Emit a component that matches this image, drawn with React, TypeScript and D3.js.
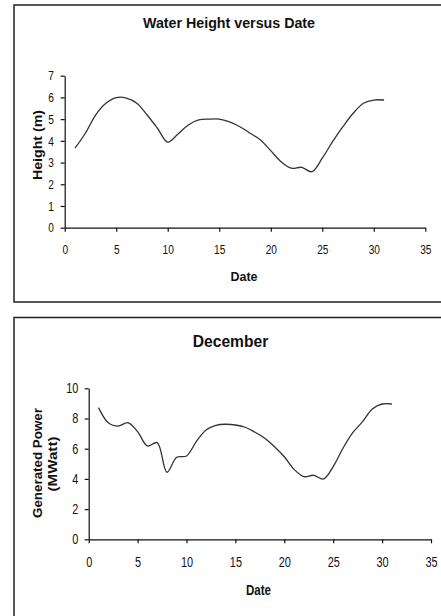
import { useEffect, useRef } from "react";
import * as d3 from "d3";

const days = [1, 2, 3, 4, 5, 6, 7, 8, 9, 10, 11, 12, 13, 14, 15, 16, 17, 18, 19, 20, 21, 22, 23, 24, 25, 26, 27, 28, 29, 30, 31];

const waterHeight = [3.66, 4.35, 5.19, 5.73, 5.99, 5.97, 5.73, 5.19, 4.58, 3.94, 4.32, 4.73, 4.96, 5.0, 5.0, 4.87, 4.65, 4.35, 4.04, 3.55, 3.04, 2.74, 2.78, 2.58, 3.2, 3.96, 4.65, 5.27, 5.73, 5.88, 5.88];

const power = [8.72, 7.72, 7.5, 7.72, 7.13, 6.18, 6.4, 4.44, 5.43, 5.52, 6.47, 7.24, 7.55, 7.62, 7.57, 7.42, 7.09, 6.69, 6.13, 5.47, 4.63, 4.15, 4.24, 3.99, 4.81, 6.03, 7.06, 7.79, 8.63, 8.96, 8.96];

const dateTicks = [0, 5, 10, 15, 20, 25, 30, 35];
const heightTicks = [0, 1, 2, 3, 4, 5, 6, 7];
const powerTicks = [0, 2, 4, 6, 8, 10];

const W = 441;
const H = 616;
const FONT = "'Liberation Sans', Arial, sans-serif";
const SQUEEZE = 0.78; // tick labels are a narrow face in the original

export default function App() {
  const ref = useRef<SVGSVGElement | null>(null);

  useEffect(() => {
    if (!ref.current) return;
    const svg = d3.select(ref.current);
    svg.selectAll("*").remove();

    svg.append("rect").attr("width", W).attr("height", H).attr("fill", "#fff");

    // frames
    svg.append("rect")
      .attr("x", 14).attr("y", 5).attr("width", 440).attr("height", 297)
      .attr("fill", "none").attr("stroke", "#222").attr("stroke-width", 1.5);
    svg.append("rect")
      .attr("x", 14).attr("y", 317.5).attr("width", 440).attr("height", 320)
      .attr("fill", "none").attr("stroke", "#222").attr("stroke-width", 1.5);

    const drawChart = (opts: {
      values: number[];
      yMax: number;
      yTicks: number[];
      x0: number; x1: number; yb: number; yt: number;
      tickFont: number;
      xLabelY: number;
      yLabelRight: number;
    }) => {
      const x = d3.scaleLinear().domain([0, 35]).range([opts.x0, opts.x1]);
      const y = d3.scaleLinear().domain([0, opts.yMax]).range([opts.yb, opts.yt]);

      const xAxis = svg.append("g")
        .attr("transform", `translate(0,${opts.yb})`)
        .call(d3.axisBottom(x).tickValues(dateTicks).tickFormat(d3.format("d")).tickSize(4).tickSizeOuter(0));
      const yAxis = svg.append("g")
        .attr("transform", `translate(${opts.x0},0)`)
        .call(d3.axisLeft(y).tickValues(opts.yTicks).tickFormat(d3.format("d")).tickSize(4).tickSizeOuter(0));

      [xAxis, yAxis].forEach((a) => {
        a.select(".domain").attr("stroke", "#111").attr("stroke-width", 1.2);
        a.selectAll(".tick line").attr("stroke", "#111").attr("stroke-width", 1.2);
        a.selectAll(".tick text")
          .attr("fill", "#111")
          .style("font-family", FONT)
          .style("font-size", `${opts.tickFont}px`);
      });
      xAxis.selectAll(".tick text")
        .attr("dy", "0")
        .attr("y", opts.xLabelY - opts.yb)
        .attr("transform", `scale(${SQUEEZE},1)`);
      yAxis.selectAll(".tick text")
        .attr("x", (opts.yLabelRight - opts.x0) / SQUEEZE)
        .attr("transform", `scale(${SQUEEZE},1)`);

      const line = d3.line<number>()
        .x((_, i) => x(days[i]))
        .y((d) => y(d))
        .curve(d3.curveCatmullRom);

      svg.append("path")
        .datum(opts.values)
        .attr("d", line)
        .attr("fill", "none")
        .attr("stroke", "#333")
        .attr("stroke-width", 1.3);
    };

    drawChart({ values: waterHeight, yMax: 7, yTicks: heightTicks, x0: 64.7, x1: 425.3, yb: 227.7, yt: 75.7, tickFont: 13, xLabelY: 254.5, yLabelRight: 54 });
    drawChart({ values: power, yMax: 10, yTicks: powerTicks, x0: 88.7, x1: 431, yb: 539.3, yt: 388.3, tickFont: 14, xLabelY: 567, yLabelRight: 78.3 });

    const label = (t: string, x: number, y: number, size: number, len?: number, rot = false) => {
      const el = svg.append("text")
        .attr("text-anchor", "middle")
        .attr("fill", "#111")
        .style("font-family", FONT)
        .style("font-weight", "bold")
        .style("font-size", `${size}px`)
        .text(t);
      if (rot) el.attr("transform", `translate(${x},${y}) rotate(-90)`);
      else el.attr("x", x).attr("y", y);
      if (len) el.attr("textLength", len).attr("lengthAdjust", "spacingAndGlyphs");
    };

    label("Water Height versus Date", 229, 27.7, 14, 172);
    label("Height (m)", 42, 145, 13.5, 70, true);
    label("Date", 244, 281, 13, 27);

    label("December", 230.5, 346.5, 16, 75.5);
    label("Generated Power", 41.5, 463, 13.5, 110, true);
    label("(MWatt)", 56.5, 464, 13.5, 55, true);
    label("Date", 258.5, 595, 15, 25);
  }, []);

  return (
    <svg
      ref={ref}
      width={W}
      height={H}
      style={{ position: "absolute", left: 0, top: 0 }}
    />
  );
}
